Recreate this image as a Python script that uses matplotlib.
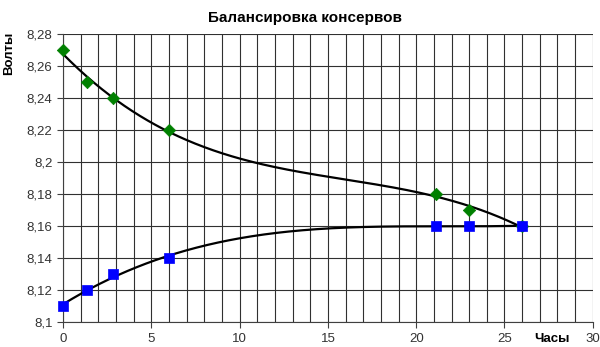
import matplotlib
matplotlib.use("Agg")
import matplotlib.pyplot as plt
import numpy as np
from matplotlib.ticker import FuncFormatter, MultipleLocator

plt.rcParams["font.family"] = ["Liberation Sans", "DejaVu Sans"]

# ── Data ─────────────────────────────────────────────────────────────
hours = [0, 1.35, 2.83, 6, 21.1, 23, 26]
volts_high = [8.27, 8.25, 8.24, 8.22, 8.18, 8.17, 8.16]
volts_low = [8.11, 8.12, 8.13, 8.14, 8.16, 8.16, 8.16]

title = "Балансировка консервов"
x_label = "Часы"
y_label = "Волты"


def comma_fmt(v, pos):
    s = f"{v:.2f}".rstrip("0").rstrip(".")
    return s.replace(".", ",")


fig = plt.figure(figsize=(6, 3.47), dpi=100)
ax = fig.add_axes([0.105, 0.072, 0.883, 0.83])

# polynomial trendlines (as Excel does), fitted to the points
xs = np.linspace(min(hours), max(hours), 300)
for ys in (volts_high, volts_low):
    coef = np.polyfit(hours, ys, 3)
    ax.plot(xs, np.polyval(coef, xs), color="black", lw=1.6, zorder=3)

ax.scatter(hours, volts_high, marker="D", s=40, color="#008000", zorder=4,
           edgecolors="#008000", linewidths=0.5, clip_on=False)
ax.scatter(hours, volts_low, marker="s", s=52, color="#0000ff", zorder=4,
           edgecolors="#0000ff", linewidths=0.5, clip_on=False)

ax.set_xlim(0, 30)
ax.set_ylim(8.1, 8.28)
ax.xaxis.set_major_locator(MultipleLocator(5))
ax.xaxis.set_minor_locator(MultipleLocator(1))
ax.yaxis.set_major_locator(MultipleLocator(0.02))
ax.yaxis.set_major_formatter(FuncFormatter(comma_fmt))

ax.grid(True, which="both", axis="x", color="#303030", lw=0.8)
ax.grid(True, which="major", axis="y", color="#303030", lw=0.8)
ax.set_axisbelow(True)

for side in ("top", "right"):
    ax.spines[side].set_visible(False)
ax.spines["left"].set_color("#404040")
ax.spines["bottom"].set_color("#404040")

ax.tick_params(axis="both", which="major", labelsize=9.5, labelcolor="#333333",
               color="#404040", length=4, direction="out")
ax.tick_params(axis="x", which="minor", length=0)
ax.tick_params(axis="x", pad=4)

fig.text(0.508, 0.948, title, ha="center", va="center", fontsize=11,
         fontweight="bold")
fig.text(0.016, 0.847, y_label, ha="center", va="center", rotation=90,
         fontsize=9.5, fontweight="bold")
fig.text(0.92, 0.023, x_label, ha="center", va="center", fontsize=9.5,
         fontweight="bold")

fig.savefig("out.png", dpi=100)
